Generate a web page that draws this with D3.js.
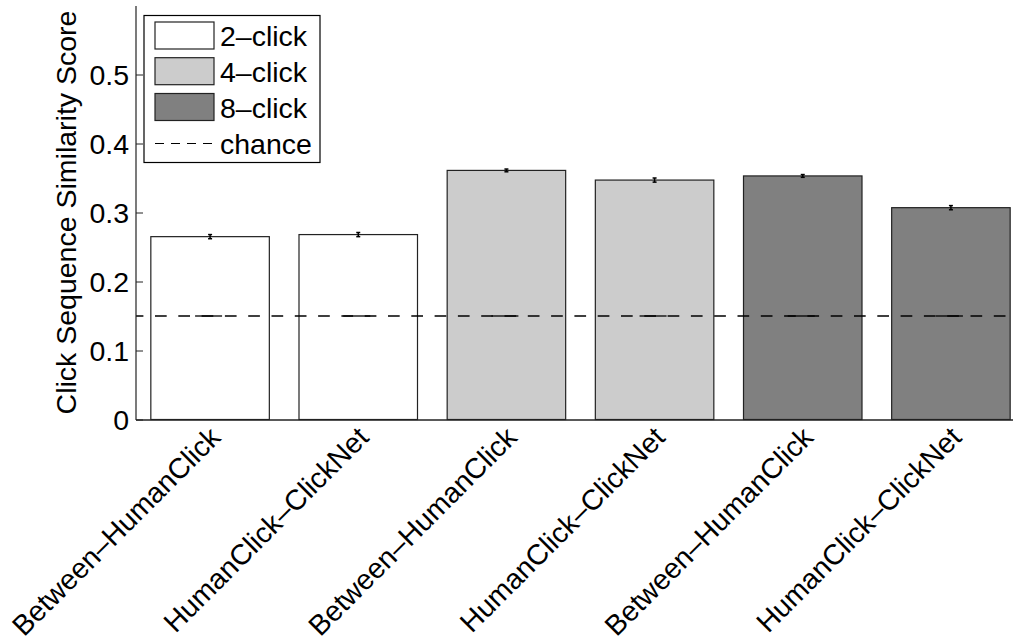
<!DOCTYPE html>
<html><head><meta charset="utf-8">
<script src="https://cdn.jsdelivr.net/npm/d3@7"></script>
<style>body{margin:0;background:#fff}svg{display:block}text{font-family:"Liberation Sans",Arial,Helvetica,sans-serif;fill:#000}</style>
</head><body>
<svg id="c" width="1013" height="644"></svg>
<script>
const categories = ["Between–HumanClick","HumanClick–ClickNet","Between–HumanClick","HumanClick–ClickNet","Between–HumanClick","HumanClick–ClickNet"];
const groups = ["2–click","2–click","4–click","4–click","8–click","8–click"];
const values = [0.265, 0.268, 0.361, 0.347, 0.353, 0.307];
const errors = [0.003, 0.003, 0.002, 0.003, 0.002, 0.003];
const chance = 0.15;
const legendLabels = ["2–click","4–click","8–click","chance"];
const groupColors = {"2–click":"#ffffff","4–click":"#cccccc","8–click":"#808080"};
const yTicks = [0, 0.1, 0.2, 0.3, 0.4, 0.5];

const svg = d3.select("#c");
const x = d3.scaleLinear().domain([0.5, 6.5]).range([136, 1025]);
const y = d3.scaleLinear().domain([0, 0.6]).range([419.5, 5.5]);
const barW = 118.5;
const FS = 28.5;

// bars
svg.append("g").selectAll("rect").data(values).join("rect")
  .attr("x", (d,i)=>x(i+1)-barW/2).attr("width", barW)
  .attr("y", d=>y(d)).attr("height", d=>y(0)-y(d))
  .attr("fill", (d,i)=>groupColors[groups[i]])
  .attr("stroke", "#222").attr("stroke-width", 1.2);

// error bars
const eb = svg.append("g").attr("stroke","#000").attr("stroke-width",1.5);
values.forEach((v,i)=>{
  const cx = x(i+1);
  eb.append("line").attr("x1",cx).attr("x2",cx).attr("y1",y(v-errors[i])).attr("y2",y(v+errors[i]));
  eb.append("line").attr("x1",cx-2).attr("x2",cx+2).attr("y1",y(v-errors[i])).attr("y2",y(v-errors[i]));
  eb.append("line").attr("x1",cx-2).attr("x2",cx+2).attr("y1",y(v+errors[i])).attr("y2",y(v+errors[i]));
});

// chance line
svg.append("line").attr("x1", 136).attr("x2", 1013)
  .attr("y1", y(chance)).attr("y2", y(chance))
  .attr("stroke","#000").attr("stroke-width",1.3).attr("stroke-dasharray","11.7,11.6").attr("stroke-dashoffset",-19);
svg.append("g").selectAll("line").data(values).join("line")
  .attr("x1",(d,i)=>x(i+1)-15).attr("x2",(d,i)=>x(i+1)+12)
  .attr("y1", y(chance)).attr("y2", y(chance))
  .attr("stroke","#000").attr("stroke-width",1.3);

// y axis
const yAxis = d3.axisLeft(y).tickValues(yTicks).tickSize(-7).tickPadding(7)
  .tickFormat(d=> d===0 ? "0" : d3.format(".1f")(d));
const ga = svg.append("g").attr("transform","translate(136,0)").call(yAxis);
ga.select(".domain").remove();
ga.selectAll(".tick line").attr("stroke","#222");
ga.selectAll(".tick text").attr("font-size",FS).attr("font-family",'"Liberation Sans",Arial,sans-serif').attr("fill","#000").attr("dy","0.36em");
svg.append("line").attr("x1",136).attr("x2",136).attr("y1",6).attr("y2",420).attr("stroke","#222").attr("stroke-width",1.2);
svg.append("line").attr("x1",136).attr("x2",1013).attr("y1",420).attr("y2",420).attr("stroke","#222").attr("stroke-width",1.5);

// x labels
svg.append("g").selectAll("text").data(categories).join("text")
  .attr("transform",(d,i)=>`translate(${x(i+1)-2},${425}) rotate(-45)`)
  .attr("text-anchor","end").attr("font-size",FS).attr("dy","0.7em")
  .text(d=>d);

// y label
svg.append("text").attr("transform",`translate(76,${(y(0)+y(0.6))/2}) rotate(-90)`)
  .attr("text-anchor","middle").attr("font-size",FS).text("Click Sequence Similarity Score");

// legend
const lg = svg.append("g");
lg.append("rect").attr("x",144).attr("y",15.5).attr("width",176).attr("height",147)
  .attr("fill","#fff").attr("stroke","#000").attr("stroke-width",1.2);
const rowY = [35.5, 71.2, 107, 143.5];
legendLabels.forEach((lab,i)=>{
  if (i<3) {
    lg.append("rect").attr("x",155).attr("y",rowY[i]-13.5).attr("width",59).attr("height",27)
      .attr("fill",groupColors[lab]).attr("stroke","#222").attr("stroke-width",1.2);
  } else {
    lg.append("line").attr("x1",155).attr("x2",214).attr("y1",rowY[i]).attr("y2",rowY[i])
      .attr("stroke","#000").attr("stroke-width",1.2).attr("stroke-dasharray","9,7");
  }
  lg.append("text").attr("x",220).attr("y",rowY[i]+10.5).attr("font-size",FS).text(lab);
});
</script>
</body></html>
